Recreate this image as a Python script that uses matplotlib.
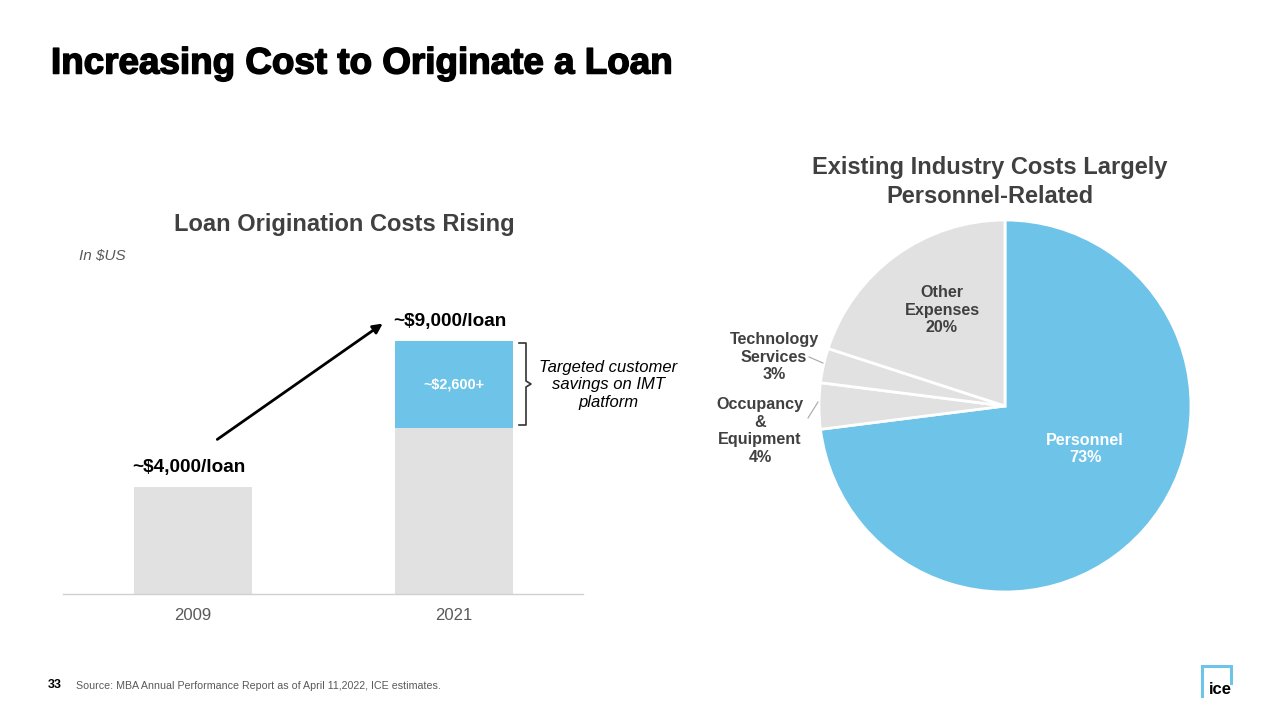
import matplotlib
matplotlib.use("Agg")
import matplotlib.pyplot as plt
from matplotlib.patches import FancyArrowPatch
import matplotlib.patheffects as pe
import numpy as np

plt.rcParams['font.family'] = ['Liberation Sans', 'DejaVu Sans']

# ---- data ----
years = ["2009", "2021"]
base_costs = [4000, 6200]        # gray bar heights (as drawn)
savings = [0, 3250]              # blue stacked segment (as drawn)
cost_labels = ["~$4,000/loan", "~$9,000/loan"]
savings_label = "~$2,600+"

pie_labels = ["Personnel", "Occupancy\n&\nEquipment", "Technology\nServices", "Other\nExpenses"]
pie_values = [73, 4, 3, 20]

BLUE = "#6EC3E8"
GRAY = "#E1E1E1"
DARK = "#404040"

W, H = 1280, 720
fig = plt.figure(figsize=(12.8, 7.2), dpi=100)
fig.patch.set_facecolor("white")

def px(x, y):
    return x / W, 1 - y / H

def ftext(x, y, s, **kw):
    fx, fy = px(x, y)
    return fig.text(fx, fy, s, **kw)

# title
ftext(51, 64, "Increasing Cost to Originate a Loan", fontsize=26.5, fontweight="bold",
      color="black", ha="left", va="center",
      path_effects=[pe.withStroke(linewidth=1.1, foreground="black")])

# ---- bar chart ----
ax_l, ax_r, ax_b, ax_t = 63, 583, 594, 300
ax = fig.add_axes([ax_l / W, (H - ax_b) / H, (ax_r - ax_l) / W, (ax_b - ax_t) / H])
x = np.arange(len(years))
bw = 0.452
ax.bar(x, base_costs, width=bw, color=GRAY, zorder=2)
ax.bar(x, savings, bottom=base_costs, width=bw, color=BLUE, zorder=2)
ax.set_xlim(-0.498, 1.494)
ax.set_ylim(0, (ax_b - ax_t) / 26.75 * 1000)
for s in ["top", "right", "left"]:
    ax.spines[s].set_visible(False)
ax.spines["bottom"].set_color("#D0D0D0")
ax.spines["bottom"].set_linewidth(1)
ax.set_yticks([])
ax.set_xticks(x)
ax.set_xticklabels(years, fontsize=12, color="#595959")
ax.tick_params(axis="x", length=0, pad=10)

# cost labels
for i in range(len(years)):
    top = base_costs[i] + savings[i]
    ax.annotate(cost_labels[i], (x[i] - 0.015, top), xytext=(0, 8), textcoords="offset points",
                ha="center", va="bottom", fontsize=13.7, fontweight="bold", color="black")
ax.text(x[1], base_costs[1] + savings[1] / 2, savings_label, ha="center", va="center",
        fontsize=10.4, fontweight="bold", color="white")

# arrow
fig.patches.append(FancyArrowPatch(px(215, 441), px(385, 322), transform=fig.transFigure,
                                   arrowstyle="-|>", mutation_scale=14, color="black", lw=2))

# bracket
bx0, bx1 = 519, 526
ytop, ybot, ymid = 343, 425, 384
pts = [(bx0, ytop), (bx1, ytop), (bx1, ymid - 3), (bx1 + 5, ymid), (bx1, ymid + 3), (bx1, ybot), (bx0, ybot)]
fig.add_artist(plt.Line2D([px(*p)[0] for p in pts], [px(*p)[1] for p in pts],
                          transform=fig.transFigure, color="#333333", lw=1.2))
ftext(608, 385, "Targeted customer\nsavings on IMT\nplatform", fontsize=12, style="italic",
      ha="center", va="center", color="black", linespacing=1.18)

ftext(344, 225, "Loan Origination Costs Rising", fontsize=17, fontweight="bold",
      ha="center", va="center", color=DARK)
ftext(79, 256, "In $US", fontsize=11, style="italic", ha="left", va="center", color="#595959")

# ---- pie ----
cx, cy, R = 1005, 406, 186
half = 200
pax = fig.add_axes([(cx - half) / W, (H - cy - half) / H, 2 * half / W, 2 * half / H])
lim = half / R
wedges, _ = pax.pie(pie_values, colors=[BLUE, GRAY, GRAY, GRAY], startangle=90, counterclock=False,
                    radius=1, wedgeprops=dict(edgecolor="white", linewidth=2))
pax.set_xlim(-lim, lim)
pax.set_ylim(-lim, lim)
pax.set_aspect("equal")
pax.axis("off")

def ptext(x, y, s, color, **kw):
    ftext(x, y, s, fontsize=11.6, fontweight="bold", ha="center", va="center", color=color,
          linespacing=1.2, **kw)

label_pos = [(1085, 449), (760, 431), (774, 357), (942, 310)]
label_col = ["white", DARK, DARK, DARK]
for (lx, ly), lab, v, c in zip(label_pos, pie_labels, pie_values, label_col):
    ptext(lx, ly, f"{lab}\n{v}%", c)

# leader lines
for (a, b) in [((809, 357), (823, 363)), ((808, 418), (818, 402))]:
    fig.add_artist(plt.Line2D([px(*a)[0], px(*b)[0]], [px(*a)[1], px(*b)[1]],
                              transform=fig.transFigure, color="#A6A6A6", lw=0.8))

ftext(990, 182, "Existing Industry Costs Largely\nPersonnel-Related", fontsize=17, fontweight="bold",
      ha="center", va="center", color=DARK, linespacing=1.3)

# footer
ftext(48, 685, "33", fontsize=9, fontweight="bold", ha="left", va="center", color="black")
ftext(76, 686, "Source: MBA Annual Performance Report as of April 11,2022, ICE estimates.",
      fontsize=7.7, ha="left", va="center", color="#595959")

# ICE logo
logo_pts = [(1202, 696), (1202, 666), (1231, 666), (1231, 683)]
fig.add_artist(plt.Line2D([px(*p)[0] for p in logo_pts], [px(*p)[1] for p in logo_pts],
                          transform=fig.transFigure, color="#6EC3E8", lw=2.2,
                          solid_joinstyle="miter"))
ftext(1220, 690, "ice", fontsize=12, fontweight="bold", ha="center", va="center", color="black")

fig.savefig("out.png", dpi=100)
